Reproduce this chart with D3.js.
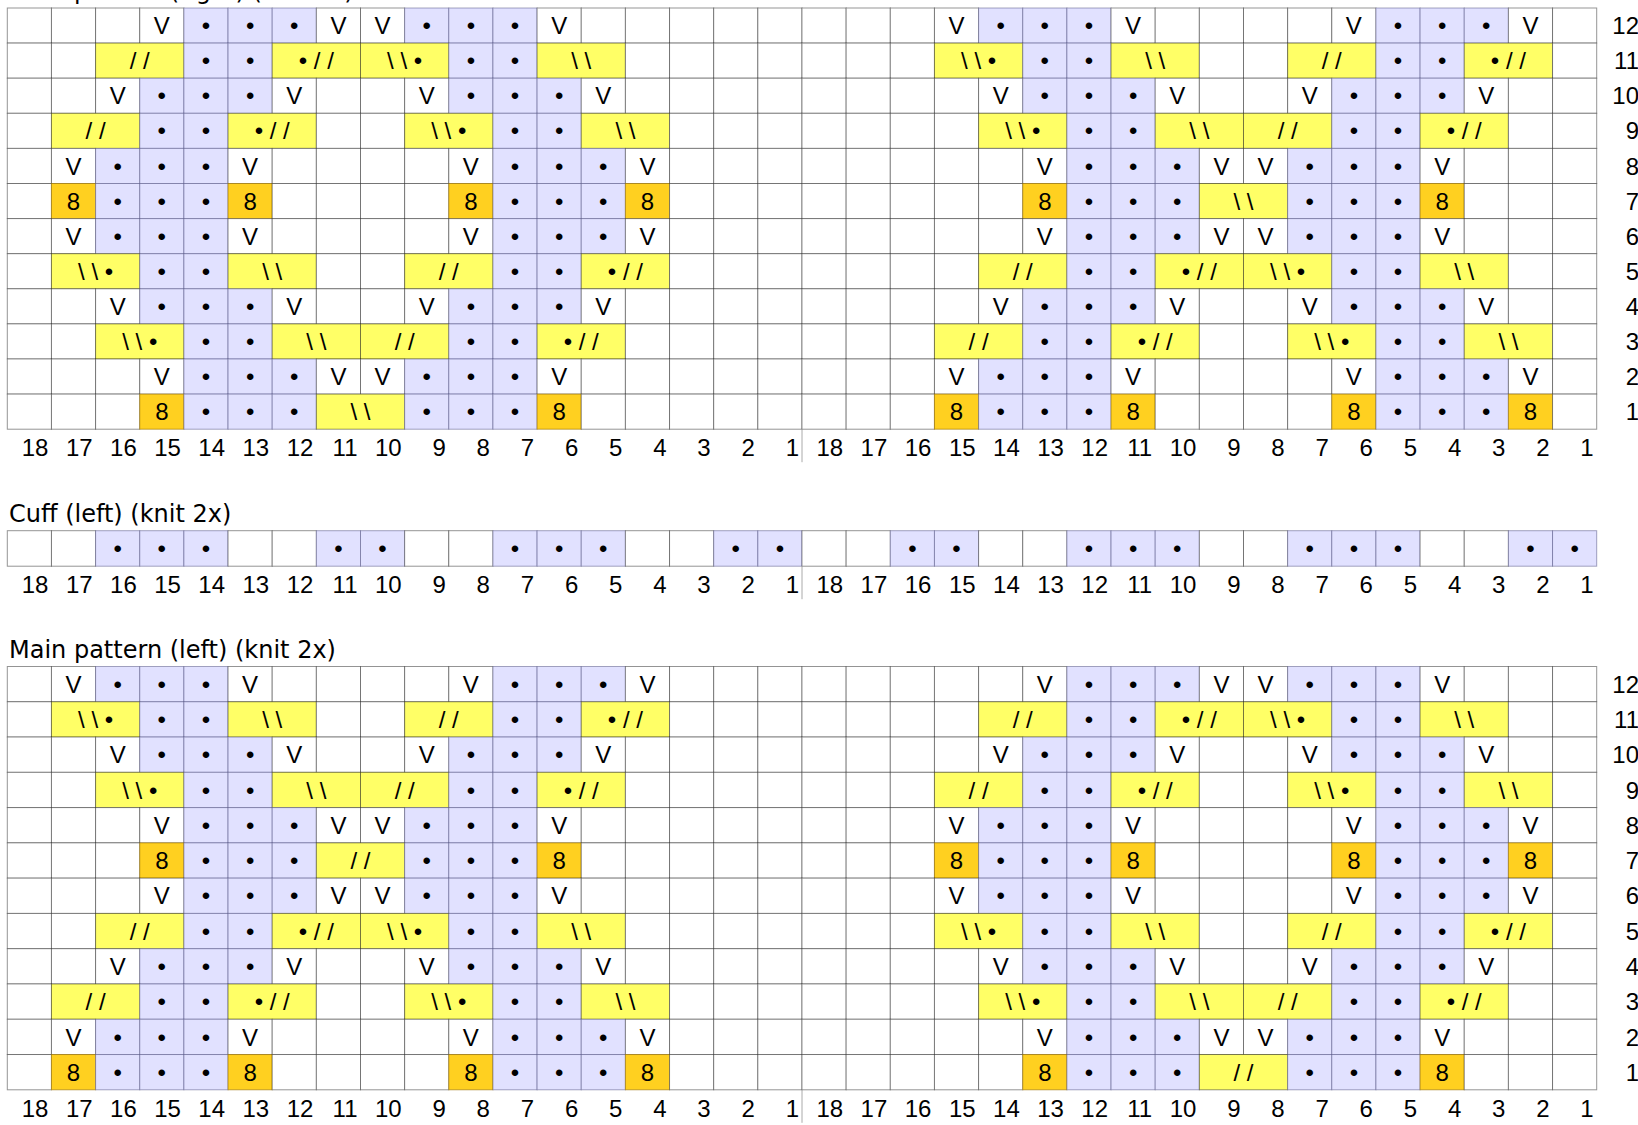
<!DOCTYPE html>
<html><head><meta charset="utf-8">
<script src="https://cdn.jsdelivr.net/npm/d3@7"></script>
<style>
html,body{margin:0;padding:0;background:#fff;overflow:hidden}
svg{display:block}
</style></head><body>
<script>
// ---- data ----
const colLabels = [18,17,16,15,14,13,12,11,10,9,8,7,6,5,4,3,2,1,
                   18,17,16,15,14,13,12,11,10,9,8,7,6,5,4,3,2,1];
const rowLabels = [12,11,10,9,8,7,6,5,4,3,2,1];
const titles = ["Main pattern (right) (knit 2x)", "Cuff (left) (knit 2x)", "Main pattern (left) (knit 2x)"];
// codes: . empty, o purl, V slip, 8 eight, a "//", b "\\", c "•//", d "\\•" (cables span 2 stitches)
const rightRows = [
  "...VoooVVoooV........VoooV....VoooV.",
  "..aaooccddoobb.......ddoobb..aaoocc.",
  "..VoooV..VoooV........VoooV..VoooV..",
  ".aaoocc..ddoobb.......ddoobbaaoocc..",
  ".VoooV....VoooV........VoooVVoooV...",
  ".8ooo8....8ooo8........8ooobbooo8...",
  ".VoooV....VoooV........VoooVVoooV...",
  ".ddoobb..aaoocc.......aaooccddoobb..",
  "..VoooV..VoooV........VoooV..VoooV..",
  "..ddoobbaaoocc.......aaoocc..ddoobb.",
  "...VoooVVoooV........VoooV....VoooV.",
  "...8ooobbooo8........8ooo8....8ooo8."
];
const cuffRows = [
  "..ooo..oo..ooo..oo..oo..ooo..ooo..oo"
];
const leftRows = [
  ".VoooV....VoooV........VoooVVoooV...",
  ".ddoobb..aaoocc.......aaooccddoobb..",
  "..VoooV..VoooV........VoooV..VoooV..",
  "..ddoobbaaoocc.......aaoocc..ddoobb.",
  "...VoooVVoooV........VoooV....VoooV.",
  "...8oooaaooo8........8ooo8....8ooo8.",
  "...VoooVVoooV........VoooV....VoooV.",
  "..aaooccddoobb.......ddoobb..aaoocc.",
  "..VoooV..VoooV........VoooV..VoooV..",
  ".aaoocc..ddoobb.......ddoobbaaoocc..",
  ".VoooV....VoooV........VoooVVoooV...",
  ".8ooo8....8ooo8........8oooaaooo8..."
];
const symbolText = {".":"", o:"•", V:"V", "8":"8", a:"/ /", b:"\\ \\", c:"• / /", d:"\\ \\ •"};
const symbolFill = {".":"#ffffff", o:"#e1e1ff", V:"#ffffff", "8":"#ffd020", a:"#ffff66", b:"#ffff66", c:"#ffff66", d:"#ffff66"};

// ---- layout ----
const W = 1638, H = 1125;
const gridX0 = 7.3, gridX1 = 1596.7;
const panels = [
  {title: titles[0], rows: rightRows, rowDomain: rowLabels, y0: 8, y1: 429.2, rowAxis: true},
  {title: titles[1], rows: cuffRows, rowDomain: [1], y0: 530.7, y1: 566.2, rowAxis: false},
  {title: titles[2], rows: leftRows, rowDomain: rowLabels, y0: 666.5, y1: 1089.8, rowAxis: true}
];

const svg = d3.select("body").append("svg").attr("width", W).attr("height", H);
const x = d3.scaleBand().domain(d3.range(colLabels.length)).range([gridX0, gridX1]);

function parseRow(str){
  const cells = [];
  for (let i = 0; i < str.length; i++){
    const ch = str[i];
    const span = "abcd".includes(ch) ? 2 : 1;
    cells.push({col: i, span, code: ch});
    i += span - 1;
  }
  return cells;
}

panels.forEach(p => {
  const g = svg.append("g");
  const y = d3.scaleBand().domain(p.rowDomain).range([p.y0, p.y1]);
  const cells = [];
  p.rows.forEach((r, ri) => parseRow(r).forEach(c => cells.push({...c, row: p.rowDomain[ri]})));

  g.append("text").attr("x", 9).attr("y", p.y0 - 8.6)
    .attr("font-family", "DejaVu Sans").attr("font-size", 24).attr("fill", "#000")
    .text(p.title);

  const cg = g.selectAll("g.cell").data(cells).join("g").attr("class", "cell");
  cg.append("rect")
    .attr("x", d => x(d.col)).attr("y", d => y(d.row))
    .attr("width", d => x.bandwidth() * d.span).attr("height", y.bandwidth())
    .attr("fill", d => symbolFill[d.code])
    .attr("stroke", d => d.code === "o" ? "rgba(60,60,110,0.45)" : (d.code === "8" ? "rgba(150,110,0,0.6)" : "rgba(0,0,0,0.42)"))
    .attr("stroke-width", 1);
  cg.append("text")
    .attr("x", d => x(d.col) + x.bandwidth() * d.span / 2)
    .attr("y", d => y(d.row) + y.bandwidth() / 2)
    .attr("dy", "0.36em")
    .attr("text-anchor", "middle")
    .attr("font-family", "Liberation Sans, Arial, sans-serif")
    .attr("font-size", 24).attr("fill", "#000")
    .text(d => symbolText[d.code]);

  // column axis
  const ax = g.append("g").attr("transform", `translate(0,${p.y1})`)
    .call(d3.axisBottom(x).tickSize(0).tickFormat(i => colLabels[i]));
  ax.select(".domain").remove();
  ax.selectAll("text")
    .attr("x", x.bandwidth() / 2 - 3).attr("y", 27).attr("dy", 0)
    .attr("text-anchor", "end")
    .attr("font-family", "Liberation Sans, Arial, sans-serif")
    .attr("font-size", 24).attr("fill", "#000");

  // divider between the two repeats
  g.append("line")
    .attr("x1", x(18)).attr("x2", x(18))
    .attr("y1", p.y1).attr("y2", p.y1 + 33)
    .attr("stroke", "#aaa").attr("stroke-width", 1);

  // row axis
  if (p.rowAxis){
    const ay = g.append("g").attr("transform", `translate(1639,0)`)
      .call(d3.axisRight(y).tickSize(0));
    ay.select(".domain").remove();
    ay.selectAll("text")
      .attr("x", 0).attr("dy", "0.36em")
      .attr("text-anchor", "end")
      .attr("font-family", "Liberation Sans, Arial, sans-serif")
      .attr("font-size", 24).attr("fill", "#000");
  }
});
</script>
</body></html>
